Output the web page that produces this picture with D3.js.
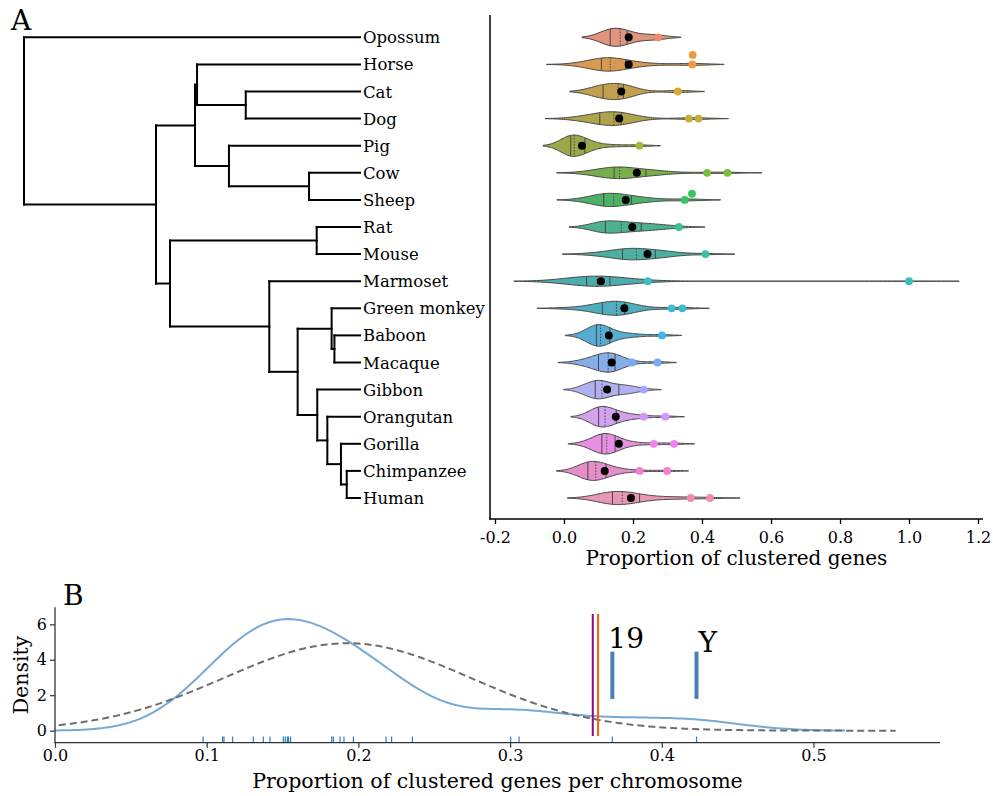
<!DOCTYPE html>
<html><head><meta charset="utf-8">
<script src="https://cdn.jsdelivr.net/npm/d3@7"></script>
<style>
body{margin:0;background:#fff;}
svg{display:block;font-family:"DejaVu Serif",serif;}
</style></head><body>
<svg id="chart" width="993" height="796"></svg>
<script>
// ---------- DATA ----------
const species = ["Opossum","Horse","Cat","Dog","Pig","Cow","Sheep","Rat","Mouse","Marmoset",
  "Green monkey","Baboon","Macaque","Gibbon","Orangutan","Gorilla","Chimpanzee","Human"];
const leafParent = ["Mammalia","HorseCarnivora","Carnivora","Carnivora","Cetartiodactyla","Ruminantia","Ruminantia",
  "Rodentia","Rodentia","Primates","Cercopithecinae","Papionini","Papionini","Hominoidea","Hominidae","Homininae","Hominini","Hominini"];
const cladeName   = ["Mammalia","Eutheria","Laurasiatheria","HorseCarnivora","Carnivora","Cetartiodactyla","Ruminantia",
  "Euarchontoglires","Rodentia","Primates","Catarrhini","Cercopithecinae","Papionini","Hominoidea","Hominidae","Homininae","Hominini"];
const cladeParent = [null,"Mammalia","Eutheria","Laurasiatheria","HorseCarnivora","Laurasiatheria","Cetartiodactyla",
  "Eutheria","Euarchontoglires","Euarchontoglires","Primates","Catarrhini","Cercopithecinae","Catarrhini","Hominoidea","Hominidae","Homininae"];
const cladeAge    = [180, 109.3, 88.4, 87.3, 61.2, 70.2, 27.3, 101.8, 23.2, 48.6, 33.4, 15.2, 13.7, 22.9, 17.5, 10.2, 7.1];

// proportion of clustered genes per chromosome (estimated)
const opossumValues = [0.118,0.128,0.134,0.150,0.163,0.172,0.183,0.232,0.273];
const horseValues = [0.040,0.078,0.092,0.100,0.104,0.107,0.112,0.118,0.124,0.129,0.132,0.136,0.141,0.148,0.158,0.170,0.182,0.190,0.210,0.270,0.372,0.373];
const catValues = [0.094,0.100,0.108,0.115,0.130,0.150,0.164,0.168,0.170,0.178,0.192,0.330];
const dogValues = [0.032,0.055,0.075,0.088,0.095,0.100,0.105,0.112,0.120,0.130,0.138,0.142,0.148,0.152,0.156,0.159,0.162,0.164,0.172,0.188,0.200,0.210,0.362,0.390];
const pigValues = [0.000,0.004,0.008,0.012,0.017,0.022,0.024,0.026,0.028,0.030,0.035,0.043,0.052,0.057,0.064,0.075,0.095,0.150,0.219];
const cowValues = [0.078,0.095,0.110,0.125,0.135,0.143,0.146,0.150,0.153,0.156,0.159,0.160,0.162,0.170,0.185,0.200,0.215,0.235,0.245,0.255,0.270,0.290,0.415,0.474];
const sheepValues = [0.062,0.080,0.092,0.102,0.108,0.113,0.116,0.122,0.128,0.135,0.140,0.142,0.146,0.155,0.165,0.175,0.185,0.192,0.204,0.220,0.240,0.270,0.350,0.371];
const ratValues = [0.090,0.098,0.105,0.110,0.115,0.120,0.128,0.136,0.145,0.155,0.166,0.175,0.185,0.200,0.212,0.224,0.240,0.255,0.270,0.290,0.333];
const mouseValues = [0.080,0.115,0.140,0.155,0.166,0.171,0.180,0.190,0.198,0.205,0.215,0.222,0.232,0.245,0.262,0.272,0.285,0.300,0.325,0.410];
const marmosetValues = [0.000,0.015,0.028,0.038,0.045,0.050,0.054,0.058,0.061,0.064,0.066,0.070,0.074,0.078,0.082,0.085,0.088,0.091,0.094,0.095,
  0.097,0.100,0.103,0.107,0.111,0.115,0.119,0.123,0.128,0.132,0.136,0.143,0.152,0.162,0.175,0.190,0.210,0.230,0.243,1.000];
const greenMonkeyValues = [0.000,0.055,0.075,0.090,0.100,0.108,0.112,0.120,0.130,0.138,0.145,0.150,0.154,0.158,0.162,0.166,0.170,0.175,0.180,0.195,0.210,0.225,0.312,0.343];
const baboonValues = [0.061,0.068,0.078,0.087,0.091,0.094,0.096,0.098,0.100,0.102,0.106,0.109,0.112,0.116,0.122,0.133,0.145,0.162,0.185,0.215,0.284];
const macaqueValues = [0.037,0.062,0.076,0.085,0.093,0.100,0.105,0.111,0.117,0.122,0.128,0.132,0.136,0.140,0.144,0.148,0.154,0.162,0.174,0.197,0.271];
const gibbonValues = [0.050,0.058,0.066,0.073,0.080,0.086,0.092,0.096,0.098,0.102,0.106,0.109,0.111,0.118,0.124,0.131,0.141,0.157,0.165,0.172,0.180,0.190,0.205,0.231];
const orangutanValues = [0.075,0.081,0.087,0.091,0.095,0.098,0.101,0.105,0.109,0.113,0.116,0.118,0.120,0.126,0.132,0.138,0.144,0.149,0.158,0.170,0.185,0.205,0.231,0.294];
const gorillaValues = [0.072,0.078,0.086,0.093,0.099,0.106,0.111,0.114,0.117,0.119,0.121,0.123,0.125,0.128,0.132,0.136,0.141,0.146,0.154,0.165,0.180,0.205,0.260,0.319];
const chimpValues = [0.040,0.048,0.055,0.060,0.064,0.067,0.070,0.074,0.078,0.082,0.087,0.090,0.094,0.098,0.103,0.108,0.114,0.120,0.127,0.135,0.150,0.175,0.219,0.299];
const humanValues = [0.0976,0.1105,0.1114,0.1171,0.1307,0.1373,0.1417,0.1505,0.1518,0.1532,0.1540,0.1553,
  0.1824,0.1835,0.1879,0.1905,0.1967,0.2182,0.2219,0.2356,0.3004,0.3059,0.3674,0.4229];

const chromosomeValues = [opossumValues,horseValues,catValues,dogValues,pigValues,cowValues,sheepValues,ratValues,mouseValues,
  marmosetValues,greenMonkeyValues,baboonValues,macaqueValues,gibbonValues,orangutanValues,gorillaValues,chimpValues,humanValues];
const highlightedValues = [[0.273],[0.372,0.373],[0.330],[0.362,0.390],[0.219],[0.415,0.474],[0.350,0.371],[0.333],[0.410],
  [0.243,1.000],[0.312,0.343],[0.284],[0.197,0.271],[0.231],[0.231,0.294],[0.260,0.319],[0.219,0.299],[0.3674,0.4229]];
const genomeWide = [0.1875,0.1875,0.166,0.160,0.052,0.211,0.179,0.198,0.242,0.107,0.175,0.130,0.138,0.125,0.150,0.159,0.118,0.194];
const palette = ["#f08a6e","#ef9a3c","#d7a83a","#c0b03a","#a7b83a","#78c03a","#3cc260","#3cc193","#3cbfae","#3dbdbe",
  "#3ebbd0","#40b5e8","#78aaf8","#a8a6fa","#d596f8","#f582f0","#f57fcc","#f589b2"];

const xTicksA = [-0.2,0.0,0.2,0.4,0.6,0.8,1.0,1.2];
const xTicksB = [0.0,0.1,0.2,0.3,0.4,0.5];
const yTicksB = [0,2,4,6];
const thresholds = [0.3545, 0.3580];
const thresholdColors = ["#8b0a8b","#ff5a00"];
const markedLabels = ["19","Y"];
const markedValues = [0.3674, 0.4229];

// ---------- SETUP ----------
const svg = d3.select("#chart");
const leafY = d3.scaleLinear().domain([0, 17]).range([37.3, 498]);
const step = leafY(1) - leafY(0);

// ---------- DENDROGRAM ----------
const xT = d3.scaleLinear().domain([180, 0]).range([24, 360]);
const rows = cladeName.map((n,i)=>({id:n, parentId:cladeParent[i], age:cladeAge[i]}))
  .concat(species.map((s,i)=>({id:s, parentId:leafParent[i], age:0, leaf:i})));
const root = d3.stratify().id(d=>d.id).parentId(d=>d.parentId)(rows);
root.eachAfter(n=>{
  if(!n.children) n.yy = leafY(n.data.leaf);
  else { const ys = n.children.map(c=>c.yy); n.yy = (d3.min(ys)+d3.max(ys))/2; n.y0 = d3.min(ys); n.y1 = d3.max(ys); }
});
const gT = svg.append("g").attr("stroke","#000").attr("stroke-width",2).attr("stroke-linecap","square").attr("fill","none");
root.descendants().forEach(n=>{
  if(n.parent) gT.append("path").attr("d",`M${xT(n.parent.data.age)},${n.yy}H${xT(n.data.age)}`);
  if(n.children) gT.append("path").attr("d",`M${xT(n.data.age)},${n.y0}V${n.y1}`);
});
svg.append("g").selectAll("text").data(root.leaves()).join("text")
  .attr("x", 363).attr("y", d=>d.yy+6).attr("font-size",16.5).text(d=>d.id);
svg.append("text").attr("x",11).attr("y",30).attr("font-size",28).text("A");

// ---------- VIOLINS ----------
const xA = d3.scaleLinear().domain([-0.2,1.2]).range([495,978]);
function gaussKde(vals, bw, xs){
  const c = 1/(vals.length*bw*Math.sqrt(2*Math.PI));
  return xs.map(x=>c*d3.sum(vals, v=>Math.exp(-0.5*((x-v)/bw)**2)));
}
const violins = chromosomeValues.map((vals,i)=>{
  const s = vals.slice().sort(d3.ascending);
  const n = s.length;
  const bw = d3.deviation(s)*Math.pow(n,-0.2);
  const lo = s[0]-2*bw, hi = s[n-1]+2*bw;
  const grid = d3.range(100).map(k=>lo+(hi-lo)*k/99);
  const dens = gaussKde(s,bw,grid);
  const qs = [0.25,0.5,0.75].map(p=>d3.quantile(s,p));
  const qd = gaussKde(s,bw,qs);
  return {i, s, bw, lo, hi, grid, dens, qs, qd, peak:d3.max(dens)};
});
const gMax = d3.max(violins, v=>v.peak);
const hwScale = 0.4*step/gMax;
const gV = svg.append("g");
violins.forEach(v=>{
  const cy = leafY(v.i);
  const pts = v.grid.map((g,k)=>[g,v.dens[k]]);
  const fillC = d3.hsl(palette[v.i]); fillC.s *= 0.75;
  gV.append("path").datum(pts)
    .attr("d", d3.area().x(d=>xA(d[0])).y0(d=>cy-d[1]*hwScale).y1(d=>cy+d[1]*hwScale))
    .attr("fill", fillC.formatHex()).attr("stroke","#474747").attr("stroke-width",1);
  v.qs.forEach((q,k)=>{
    gV.append("line").attr("x1",xA(q)).attr("x2",xA(q))
      .attr("y1",cy-v.qd[k]*hwScale).attr("y2",cy+v.qd[k]*hwScale)
      .attr("stroke","#474747").attr("stroke-width",1)
      .attr("stroke-dasharray", k===1 ? "1.5,1.5" : null);
  });
});
// highlighted chromosomes (swarm placement)
const D = 9.5;
highlightedValues.forEach((vals,i)=>{
  const cy = leafY(i); const placed = [];
  vals.slice().sort(d3.ascending).forEach(v=>{
    const px = xA(v);
    const cands = [0];
    placed.forEach(p=>{ const dx = Math.abs(px-p.x); if(dx<D){ const o=Math.sqrt(D*D-dx*dx); cands.push(p.dy-o, p.dy+o);} });
    cands.sort((a,b)=>Math.abs(a)-Math.abs(b) || a-b);
    const dy = cands.find(c=>placed.every(p=>Math.hypot(px-p.x,c-p.dy)>=D-0.01));
    placed.push({x:px,dy});
    svg.append("circle").attr("cx",px).attr("cy",cy+dy).attr("r",3.9).attr("fill",palette[i]);
  });
});
svg.append("g").selectAll("circle").data(genomeWide).join("circle")
  .attr("cx",d=>xA(d)).attr("cy",(d,i)=>leafY(i)).attr("r",4).attr("fill","#000");

// axes A
svg.append("line").attr("x1",490).attr("x2",490).attr("y1",15).attr("y2",519.5).attr("stroke","#000").attr("stroke-width",1.5);
svg.append("line").attr("x1",489.25).attr("x2",983).attr("y1",519).attr("y2",519).attr("stroke","#000").attr("stroke-width",1.5);
const axA = svg.append("g").attr("transform","translate(0,519)")
  .call(d3.axisBottom(xA).tickValues(xTicksA).tickFormat(d=>d.toFixed(1)).tickSize(5).tickPadding(7.5));
axA.select(".domain").remove();
axA.selectAll("line").attr("stroke","#000").attr("stroke-width",1.3);
axA.selectAll("text").attr("font-size",16).attr("font-family","DejaVu Serif").attr("fill","#000");
svg.append("text").attr("x",736.5).attr("y",565).attr("text-anchor","middle").attr("font-size",20).text("Proportion of clustered genes");

// ---------- PANEL B ----------
const xB = d3.scaleLinear().domain([0,0.5834]).range([55,940]);
const yB = d3.scaleLinear().domain([-0.68,6.96]).range([742.7,607.3]);
svg.append("defs").append("clipPath").attr("id","clipB").append("rect")
  .attr("x",55).attr("y",590).attr("width",885).attr("height",153);
const hs = humanValues.slice().sort(d3.ascending), nH = hs.length;
const sd1 = d3.deviation(hs);
const iqr = d3.quantile(hs,0.75)-d3.quantile(hs,0.25);
const bwSM = 1.059*Math.min(sd1, iqr/1.349)*Math.pow(nH,-0.2);
const kx = d3.range(200).map(k=>hs[0]-3*bwSM + (hs[nH-1]-hs[0]+6*bwSM)*k/199);
const ky = gaussKde(hs,bwSM,kx);
const mu = d3.mean(hs), sd0 = Math.sqrt(d3.mean(hs,v=>(v-mu)**2));
const bwSc = sd1*Math.pow(nH,-0.2);
const fx = d3.range(200).map(k=>hs[0]-3*bwSc + (hs[nH-1]-hs[0]+6*bwSc)*k/199);
const fy = fx.map(x=>Math.exp(-0.5*((x-mu)/sd0)**2)/(sd0*Math.sqrt(2*Math.PI)));
const lineB = d3.line().x(d=>xB(d[0])).y(d=>yB(d[1]));
const gB = svg.append("g").attr("clip-path","url(#clipB)");
gB.append("path").attr("d", lineB(kx.map((x,k)=>[x,ky[k]]))).attr("fill","none").attr("stroke","#75aad6").attr("stroke-width",2);
gB.append("path").attr("d", lineB(fx.map((x,k)=>[x,fy[k]]))).attr("fill","none").attr("stroke","#6e6e6e").attr("stroke-width",2).attr("stroke-dasharray","7,4");
gB.selectAll("line.rug").data(hs).join("line").attr("class","rug")
  .attr("x1",d=>xB(d)).attr("x2",d=>xB(d)).attr("y1",736.5).attr("y2",742.7).attr("stroke","#2f7ec1").attr("stroke-width",1.2);
thresholds.forEach((t,k)=>{
  svg.append("line").attr("x1",xB(t)).attr("x2",xB(t)).attr("y1",614).attr("y2",736).attr("stroke",thresholdColors[k]).attr("stroke-width",2);
});
markedValues.forEach((v,k)=>{
  svg.append("line").attr("x1",xB(v)).attr("x2",xB(v)).attr("y1",yB(4.46)).attr("y2",yB(1.79)).attr("stroke","#4a80b4").attr("stroke-width",4);
  svg.append("text").attr("x", k===0 ? xB(v)-4 : xB(v)+2).attr("y", k===0 ? 648 : 651.5).attr("font-size",28).text(markedLabels[k]);
});
svg.append("line").attr("x1",55).attr("x2",55).attr("y1",607.3).attr("y2",743).attr("stroke","#333").attr("stroke-width",1.3);
svg.append("line").attr("x1",54.4).attr("x2",940).attr("y1",742.7).attr("y2",742.7).attr("stroke","#333").attr("stroke-width",1.3);
const axBx = svg.append("g").attr("transform","translate(0,742.7)")
  .call(d3.axisBottom(xB).tickValues(xTicksB).tickFormat(d=>d.toFixed(1)).tickSize(5).tickPadding(1.5));
const axBy = svg.append("g").attr("transform","translate(55,0)")
  .call(d3.axisLeft(yB).tickValues(yTicksB).tickFormat(d3.format("d")).tickSize(5).tickPadding(3));
[axBx,axBy].forEach(a=>{a.select(".domain").remove(); a.selectAll("line").attr("stroke","#333").attr("stroke-width",1.2);
  a.selectAll("text").attr("font-size",16).attr("font-family","DejaVu Serif").attr("fill","#000");});
svg.append("text").attr("x",497.5).attr("y",788).attr("text-anchor","middle").attr("font-size",20.5).text("Proportion of clustered genes per chromosome");
svg.append("text").attr("transform","translate(28,675) rotate(-90)").attr("text-anchor","middle").attr("font-size",20.5).text("Density");
svg.append("text").attr("x",63).attr("y",605).attr("font-size",28).text("B");
</script>
</body></html>
